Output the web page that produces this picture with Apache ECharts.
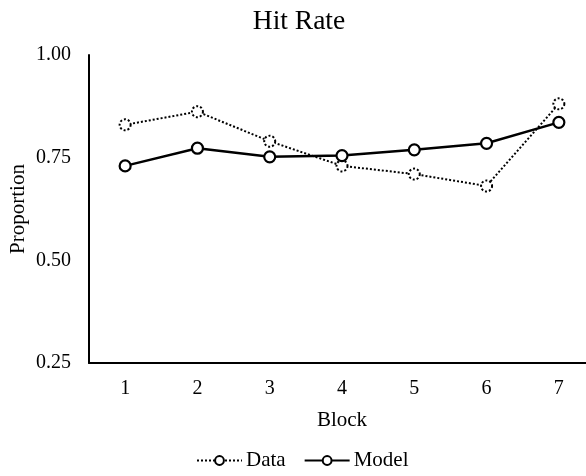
<!DOCTYPE html>
<html>
<head>
<meta charset="utf-8">
<script src="https://cdn.jsdelivr.net/npm/echarts@6/dist/echarts.min.js"></script>
<style>
  html, body { margin: 0; padding: 0; background: #fff; }
  #chart { width: 586px; height: 476px; }
</style>
</head>
<body>
<div id="chart"></div>
<script>
const blocks = ['1', '2', '3', '4', '5', '6', '7'];
const dataValues = [0.83, 0.862, 0.79, 0.73, 0.71, 0.681, 0.881];
const modelValues = [0.73, 0.773, 0.752, 0.755, 0.769, 0.785, 0.836];
const yTicks = [0.25, 0.5, 0.75, 1.0];

const font = '"Liberation Serif", "DejaVu Serif", serif';
const chart = echarts.init(document.getElementById('chart'));

chart.setOption({
  animation: false,
  backgroundColor: '#fff',
  title: {
    text: 'Hit Rate',
    left: 294,
    top: 3,
    textAlign: 'center',
    textStyle: { fontFamily: font, fontSize: 27.5, fontWeight: 'normal', color: '#000' },
  },
  grid: {
    left: 89,
    top: 55,
    width: 506,
    height: 308,
    containLabel: false,
    outerBoundsMode: 'none',
  },
  legend: {
    top: 445,
    left: 191,
    itemWidth: 45,
    itemHeight: 11,
    itemGap: 18,
    textStyle: { fontFamily: font, fontSize: 21, color: '#000', padding: [0, 0, 0, -1] },
    data: ['Data', 'Model'],
  },
  xAxis: {
    type: 'category',
    data: blocks,
    boundaryGap: true,
    name: 'Block',
    nameLocation: 'middle',
    nameGap: 47,
    nameMoveOverlap: false,
    nameTextStyle: { fontFamily: font, fontSize: 21, color: '#000' },
    axisLine: { lineStyle: { color: '#000', width: 2 } },
    axisTick: { show: false },
    axisLabel: { fontFamily: font, fontSize: 20, color: '#000', margin: 16 },
    splitLine: { show: false },
  },
  yAxis: {
    type: 'value',
    min: yTicks[0],
    max: yTicks[yTicks.length - 1],
    interval: 0.25,
    name: 'Proportion',
    nameLocation: 'middle',
    nameGap: 60,
    nameMoveOverlap: false,
    nameRotate: 90,
    nameTextStyle: { fontFamily: font, fontSize: 21, color: '#000' },
    axisLine: { show: true, lineStyle: { color: '#000', width: 2 } },
    axisTick: { show: false },
    axisLabel: {
      fontFamily: font,
      fontSize: 20,
      color: '#000',
      margin: 18,
      formatter: (v) => v.toFixed(2),
    },
    splitLine: { show: false },
  },
  series: [
    {
      name: 'Data',
      type: 'line',
      data: dataValues,
      symbol: 'circle',
      symbolSize: 11,
      lineStyle: { color: '#000', width: 2, type: 'dotted' },
      itemStyle: { color: '#fff', borderColor: '#000', borderWidth: 2, borderType: 'dotted' },
      z: 2,
    },
    {
      name: 'Model',
      type: 'line',
      data: modelValues,
      symbol: 'circle',
      symbolSize: 11,
      lineStyle: { color: '#000', width: 2.5 },
      itemStyle: { color: '#fff', borderColor: '#000', borderWidth: 2.2 },
      z: 3,
    },
  ],
});
</script>
</body>
</html>
